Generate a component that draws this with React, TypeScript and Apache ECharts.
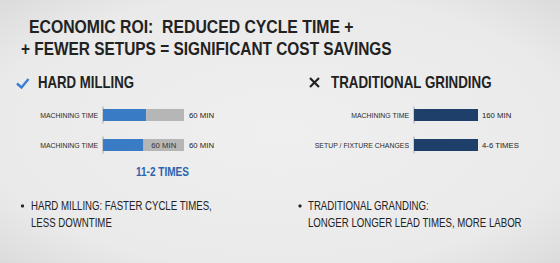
import React, { useEffect, useRef } from "react";
import * as echarts from "echarts";

const titleLines = ["ECONOMIC ROI:  REDUCED CYCLE TIME +", "+ FEWER SETUPS = SIGNIFICANT COST SAVINGS"];
const leftHeader = "HARD MILLING";
const rightHeader = "TRADITIONAL GRINDING";
const leftCategories = ["MACHINING TIME", "MACHINING TIME"];
const leftBlue = [32, 30];
const leftGray = [28, 30];
const leftInsideLabels = ["", "60 MIN"];
const leftTotalLabels = ["60 MIN", "60 MIN"];
const leftMax = 60;
const leftNote = "11-2 TIMES";
const rightCategories = ["MACHINING TIME", "SETUP / FIXTURE CHANGES"];
const rightValues = [160, 160];
const rightLabels = ["160 MIN", "4-6 TIMES"];
const rightMax = 160;
const leftBullet = ["HARD MILLING: FASTER CYCLE TIMES,", "LESS DOWNTIME"];
const rightBullet = ["TRADITIONAL GRANDING:", "LONGER LONGER LEAD TIMES, MORE LABOR"];

const FONT = '"Liberation Sans Narrow", "Liberation Sans", sans-serif';
const DARK = "#222222";

let ctx: CanvasRenderingContext2D | null = null;
function measure(text: string, size: number, weight = "normal") {
  if (!ctx) ctx = document.createElement("canvas").getContext("2d");
  if (!ctx) return text.length * size * 0.5;
  ctx.font = `${weight} ${size}px ${FONT}`;
  return ctx.measureText(text).width;
}
function fit(lines: string[], size: number, target: number, weight = "normal") {
  const w = Math.max(...lines.map((l) => measure(l, size, weight)));
  return target / w;
}

export default function App() {
  const ref = useRef<HTMLDivElement>(null);
  useEffect(() => {
    document.body.style.margin = "0";
    const chart = echarts.init(ref.current!, null, { renderer: "svg" });
    const catSize = 8.5 * fit(["MACHINING TIME"], 8.5, 58);
    const valSize = 9 * fit(["60 MIN"], 9, 25);
    const catAxis = (gridIndex: number, data: string[]) => ({
      type: "category",
      gridIndex,
      data,
      inverse: true,
      axisLine: { show: false },
      axisTick: { show: false },
      axisLabel: { fontFamily: FONT, fontSize: catSize, color: "#2a2a2a", margin: 5 },
    });
    const valAxis = (gridIndex: number, max: number) => ({
      type: "value",
      gridIndex,
      min: 0,
      max,
      show: false,
    });
    const labelStyle = { fontFamily: FONT, fontSize: valSize, color: DARK };
    const txt = (text: string, x: number, y: number, size: number, target: number, extra: any = {}, weight = "normal") => ({
      type: "text",
      x,
      y,
      scaleX: fit(text.split("\n"), size, target, weight),
      style: {
        text,
        fontFamily: FONT,
        fontWeight: weight,
        fontSize: size,
        fill: DARK,
        verticalAlign: "middle",
        ...extra,
      },
    });
    chart.setOption({
      animation: false,
      backgroundColor: "transparent",
      grid: [
        { left: 103, top: 100, width: 81, height: 60 },
        { left: 414, top: 100, width: 64, height: 60 },
      ],
      xAxis: [valAxis(0, leftMax), valAxis(1, rightMax)],
      yAxis: [catAxis(0, leftCategories), catAxis(1, rightCategories)],
      series: [
        {
          type: "scatter",
          xAxisIndex: 0,
          yAxisIndex: 0,
          symbol: "rect",
          symbolSize: [1, 17],
          itemStyle: { color: "#9a9a9a" },
          data: leftCategories.map((_, i) => [0, i]),
          z: 1,
        },
        {
          type: "scatter",
          xAxisIndex: 1,
          yAxisIndex: 1,
          symbol: "rect",
          symbolSize: [1, 17],
          itemStyle: { color: "#9a9a9a" },
          data: rightCategories.map((_, i) => [0, i]),
          z: 1,
        },
        {
          type: "bar",
          xAxisIndex: 0,
          yAxisIndex: 0,
          stack: "left",
          barWidth: 12,
          itemStyle: { color: "#3a7bc6" },
          data: leftBlue,
          z: 2,
        },
        {
          type: "bar",
          xAxisIndex: 0,
          yAxisIndex: 0,
          stack: "left",
          barWidth: 12,
          itemStyle: { color: "#b6b6b6" },
          data: leftGray,
          label: {
            show: true,
            position: "inside",
            ...labelStyle,
            color: "#333",
            formatter: (p: any) => leftInsideLabels[p.dataIndex],
          },
          z: 2,
        },
        {
          type: "bar",
          xAxisIndex: 0,
          yAxisIndex: 0,
          stack: "left",
          barWidth: 12,
          itemStyle: { color: "transparent" },
          data: leftCategories.map(() => 0),
          label: {
            show: true,
            position: "right",
            distance: 5,
            ...labelStyle,
            formatter: (p: any) => leftTotalLabels[p.dataIndex],
          },
          z: 2,
        },
        {
          type: "bar",
          xAxisIndex: 1,
          yAxisIndex: 1,
          barWidth: 12,
          itemStyle: { color: "#1d3f69" },
          data: rightValues,
          label: {
            show: true,
            position: "right",
            distance: 4,
            ...labelStyle,
            formatter: (p: any) => rightLabels[p.dataIndex],
          },
          z: 2,
        },
      ],
      graphic: [
        {
          type: "rect",
          z: -10,
          silent: true,
          shape: { x: 0, y: 0, width: 560, height: 263 },
          style: {
            fill: new echarts.graphic.RadialGradient(0.5, 0.5, 0.75, [
              { offset: 0, color: "#efefef" },
              { offset: 0.7, color: "#eaeaea" },
              { offset: 1, color: "#d8d8d8" },
            ]),
          },
        },
        txt(titleLines[0], 29, 27.5, 18, 325, {}, "bold"),
        txt(titleLines[1], 21, 49, 18, 371, {}, "bold"),
        {
          type: "polyline",
          shape: { points: [[17, 83.5], [21.5, 87.5], [28.5, 79]] },
          style: { stroke: "#3a7fd0", lineWidth: 2.4, fill: null },
        },
        txt(leftHeader, 38, 83, 16, 96, {}, "bold"),
        {
          type: "line",
          shape: { x1: 310, y1: 78, x2: 319, y2: 87 },
          style: { stroke: DARK, lineWidth: 2.2 },
        },
        {
          type: "line",
          shape: { x1: 310, y1: 87, x2: 319, y2: 78 },
          style: { stroke: DARK, lineWidth: 2.2 },
        },
        txt(rightHeader, 331, 83, 16, 161, {}, "bold"),
        txt(leftNote, 162.5, 172, 12.5, 53, { fill: "#2c63ab", align: "center" }, "bold"),
        {
          type: "circle",
          shape: { cx: 22.5, cy: 206, r: 1.6 },
          style: { fill: DARK },
        },
        txt(leftBullet.join("\n"), 31, 214, 12.5, 181, { lineHeight: 17 }),
        {
          type: "circle",
          shape: { cx: 300, cy: 206, r: 1.6 },
          style: { fill: DARK },
        },
        txt(rightBullet.join("\n"), 308, 214, 12.5, 214, { lineHeight: 17 }),
      ],
    });
    return () => chart.dispose();
  }, []);
  return <div ref={ref} style={{ width: 560, height: 263 }} />;
}
